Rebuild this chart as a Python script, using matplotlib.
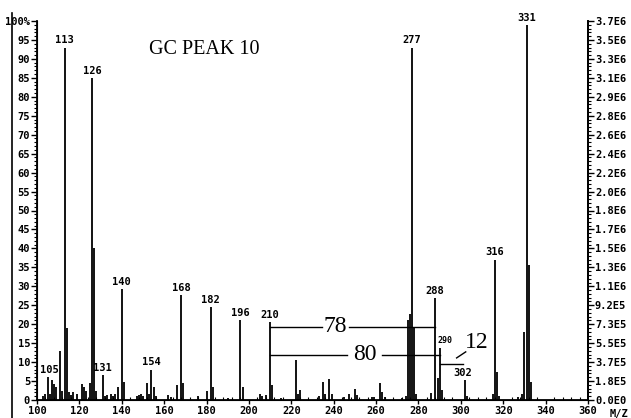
import numpy as np
import matplotlib
matplotlib.use("Agg")
import matplotlib.pyplot as plt
from matplotlib.lines import Line2D
from matplotlib.ticker import MultipleLocator

ofilename = "out.png"

# m/z and relative intensity (%)
mz = np.array([103, 104, 105, 106, 107, 108, 109, 111, 112, 113, 114, 115, 116, 117,
               119, 121, 122, 123, 125, 126, 127, 128, 131, 132, 133, 135, 136, 137,
               138, 140, 141, 147, 148, 149, 150, 152, 153, 154, 155, 156, 162, 163,
               166, 168, 169, 176, 180, 182, 183, 190, 196, 197, 205, 206, 208, 210,
               211, 215, 222, 223, 224, 233, 235, 236, 238, 239, 245, 247, 250, 251,
               258, 259, 262, 263, 264, 272, 274, 275, 276, 277, 278, 279, 286, 288,
               289, 290, 291, 302, 303, 315, 316, 317, 318, 327, 329, 330, 331, 332,
               333])
intensity = np.array([1.0, 1.6, 6.0, 1.5, 5.3, 4.2, 3.3, 13.0, 2.5, 93.0, 19.0, 2.0, 1.2, 2.2,
                      1.5, 4.2, 3.3, 2.5, 4.5, 85.0, 40.0, 2.5, 6.6, 1.0, 1.2, 1.5, 1.0, 1.5,
                      3.3, 29.3, 4.7, 1.0, 1.2, 1.5, 1.0, 4.6, 1.5, 8.0, 3.5, 1.0, 1.2, 0.8,
                      4.0, 27.7, 4.4, 1.0, 2.4, 24.5, 3.5, 0.6, 21.1, 3.5, 1.5, 1.0, 1.3, 20.6,
                      4.0, 0.6, 10.5, 1.5, 2.6, 1.0, 4.8, 1.5, 5.6, 1.5, 0.8, 1.5, 3.0, 1.2,
                      0.8, 0.8, 4.5, 2.0, 0.8, 0.5, 1.0, 21.0, 22.7, 93.0, 19.0, 1.5, 1.8, 26.9,
                      5.7, 13.8, 2.6, 5.3, 1.1, 1.5, 37.0, 7.3, 1.0, 0.8, 1.5, 18.0, 99.0, 35.5,
                      4.7])

labelled = [105, 113, 126, 131, 140, 154, 168, 182, 196, 210, 277, 288, 290, 302, 316, 331]
label_shift = {105: 1.0, 288: -0.5, 290: 2.5, 302: -1.0}

left_ticks = list(range(0, 101, 5))
left_labels = [str(v) for v in left_ticks[:-1]] + ["100%"]
right_labels = ["0.0E0", "1.8E5", "3.7E5", "5.5E5", "7.3E5", "9.2E5", "1.1E6", "1.3E6",
                "1.5E6", "1.7E6", "1.8E6", "2.0E6", "2.2E6", "2.4E6", "2.6E6", "2.8E6",
                "2.9E6", "3.1E6", "3.3E6", "3.5E6", "3.7E6"]

mono = "DejaVu Sans Mono"
serif = "Liberation Serif"

fig = plt.figure(figsize=(6.31, 4.18), dpi=100)
ax = fig.add_axes([37/631, 18/418, 551/631, 379/418])

ax.vlines(mz, 0, intensity, color="black", lw=1.3)
ax.set_xlim(100, 360)
ax.set_ylim(0, 100)

for m in labelled:
    h = intensity[list(mz).index(m)]
    size = 6 if m == 290 else 7.5
    ax.text(m + label_shift.get(m, 0), h + 0.6, str(m), ha="center", va="bottom",
            fontsize=size, fontweight="bold", family=mono, clip_on=False)

ax.text(179, 92.5, "GC PEAK 10", ha="center", va="center", fontsize=14.5, family=serif)

# bracket annotations
ax.plot([210, 234.5], [19.3, 19.3], color="black", lw=1)
ax.plot([247, 288], [19.3, 19.3], color="black", lw=1)
ax.text(240.5, 19.3, "78", ha="center", va="center", fontsize=17, family=serif)
ax.plot([210, 246.5], [11.9, 11.9], color="black", lw=1)
ax.plot([263, 290], [11.9, 11.9], color="black", lw=1)
ax.text(254.8, 11.9, "80", ha="center", va="center", fontsize=17, family=serif)
ax.plot([290, 301], [9.5, 9.5], color="black", lw=1)
ax.plot([298, 302.3], [11.1, 12.7], color="black", lw=1)
ax.text(307.5, 15.3, "12", ha="center", va="center", fontsize=17, family=serif)

for side in ["top"]:
    ax.spines[side].set_visible(False)
for side in ["left", "right", "bottom"]:
    ax.spines[side].set_linewidth(1.3)

ax.set_yticks(left_ticks)
ax.set_yticklabels(left_labels)
ax.yaxis.set_minor_locator(MultipleLocator(1))
ax.tick_params(axis="y", which="major", length=4, width=1, pad=1, labelsize=7.5)
ax.tick_params(axis="y", which="minor", length=2, width=0.8)
ax.set_xticks(range(100, 361, 20))
ax.xaxis.set_minor_locator(MultipleLocator(4))
ax.tick_params(axis="x", which="major", length=3, width=1, pad=1, labelsize=7.5)
ax.tick_params(axis="x", which="minor", length=2, width=0.8, direction="in")

ax2 = ax.twinx()
ax2.set_ylim(0, 100)
ax2.set_yticks(left_ticks)
ax2.set_yticklabels(right_labels)
ax2.yaxis.set_minor_locator(MultipleLocator(1))
ax2.tick_params(axis="y", which="major", length=4, width=1, pad=1, labelsize=7.5)
ax2.tick_params(axis="y", which="minor", length=2, width=0.8)
ax2.spines["top"].set_visible(False)
ax2.spines["right"].set_linewidth(1.3)

for lab in ax.get_xticklabels() + ax.get_yticklabels() + ax2.get_yticklabels():
    lab.set_family(mono)
    lab.set_fontweight("bold")

fig.text(610/631, 4/418, "M/Z", fontsize=7.5, fontweight="bold", family=mono,
         ha="left", va="center")

# scanned page border on the left
fig.add_artist(Line2D([12/631, 12/631], [0, 1 - 13/418], transform=fig.transFigure,
                      color="black", lw=1.2))

plt.savefig(ofilename, dpi=100)
